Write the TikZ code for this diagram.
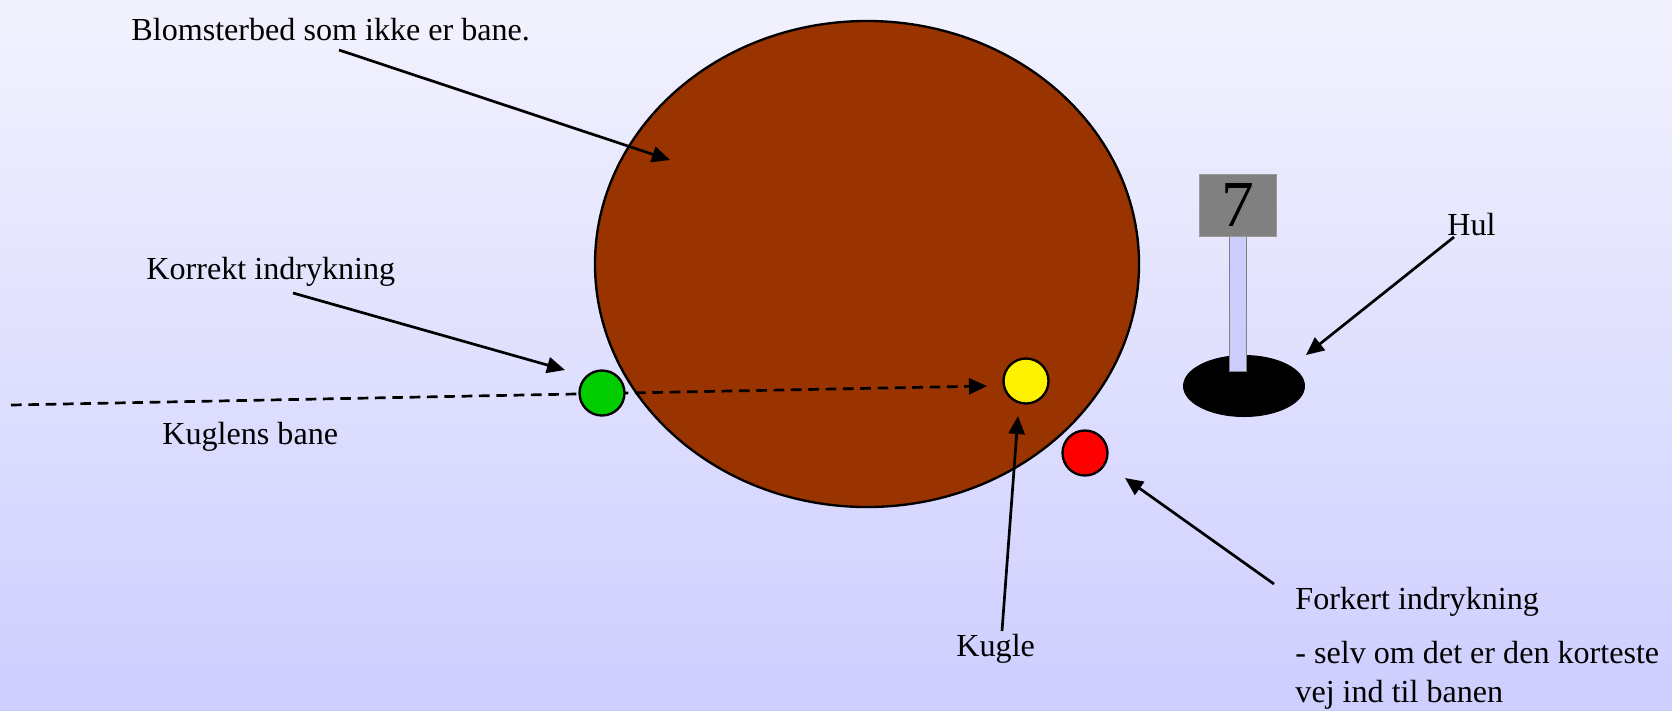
\documentclass[tikz,border=0pt]{standalone}
\usepackage{fontspec}
\setmainfont{Liberation Serif}
\usetikzlibrary{shapes,arrows.meta,positioning,calc}
\definecolor{bedbrown}{RGB}{153,51,0}
\definecolor{skytop}{RGB}{242,242,254}
\definecolor{skybottom}{RGB}{206,206,255}
\definecolor{postblue}{RGB}{204,204,255}
\definecolor{ballgreen}{RGB}{0,204,0}

\begin{document}
\begin{tikzpicture}[x=0.015cm, y=-0.015cm,
    every node/.style={font=\fontsize{13.7}{16.6}\selectfont},
    tekst/.style={anchor=west, inner sep=0pt, align=left},
    kuglestil/.style={draw, circle, line width=1pt, minimum size=0.675cm, inner sep=0pt},
    pil/.style={-{Triangle[length=0.27cm, width=0.24cm]}, line width=1.15pt}]
    % baggrund
    \shade[top color=skytop, bottom color=skybottom] (0,0) rectangle (1672,710);
    \useasboundingbox (0,0) rectangle (1672,710);

    % blomsterbed
    \node[draw, ellipse, fill=bedbrown, line width=1pt, inner sep=0pt,
          minimum width=8.16cm, minimum height=7.29cm] (bed) at (867,264) {};

    % hul og skilt
    \node[ellipse, fill=black, inner sep=0pt, minimum width=1.83cm, minimum height=0.93cm] (hul) at (1244,386) {};
    \node[draw=gray, fill=postblue, inner sep=0pt, minimum width=0.255cm, minimum height=2.055cm] (stang) at (1237.5,302.5) {};
    \node[draw=gray!80, fill=gray, inner sep=0pt, minimum width=1.155cm, minimum height=0.93cm,
          font=\fontsize{28}{28}\selectfont] (skilt) at (1237.5,205) {7};

    % kuglens bane
    \coordinate (banestart) at (11,405);
    \coordinate (baneslut) at (987,386);
    \draw[pil, dash pattern=on 0.16cm off 0.1cm] (banestart) -- (baneslut);

    % kugler
    \node[kuglestil, fill=ballgreen] (gron) at (602,393) {};
    \node[kuglestil, fill=yellow] (gul) at (1026,381) {};
    \node[kuglestil, fill=red] (rod) at (1085,453) {};

    % tekster
    \node[tekst] (blomst) at (131,30) {Blomsterbed som ikke er bane.};
    \node[tekst] (korrekt) at (146,272) {Korrekt indrykning};
    \node[tekst] (bane) at (162,437) {Kuglens bane};
    \node[tekst] (kugle) at (956,649) {Kugle};
    \node[tekst] (hultekst) at (1447,225) {Hul};
    \node[tekst] (forkert) at (1295,602) {Forkert indrykning};
    \node[tekst] (note) at (1295,675) {- selv om det er den korteste\\vej ind til banen};

    % pile
    \coordinate (p1) at (339,50);   \coordinate (q1) at (670,160);
    \coordinate (p2) at (293,293);  \coordinate (q2) at (565,370);
    \coordinate (p3) at (1002,631); \coordinate (q3) at (1018,416);
    \coordinate (p4) at (1454,237); \coordinate (q4) at (1306,355);
    \coordinate (p5) at (1274,584); \coordinate (q5) at (1125,478);
    \draw[pil] (p1) -- (q1);
    \draw[pil] (p2) -- (q2);
    \draw[pil] (p3) -- (q3);
    \draw[pil] (p4) -- (q4);
    \draw[pil] (p5) -- (q5);
\end{tikzpicture}
\end{document}
